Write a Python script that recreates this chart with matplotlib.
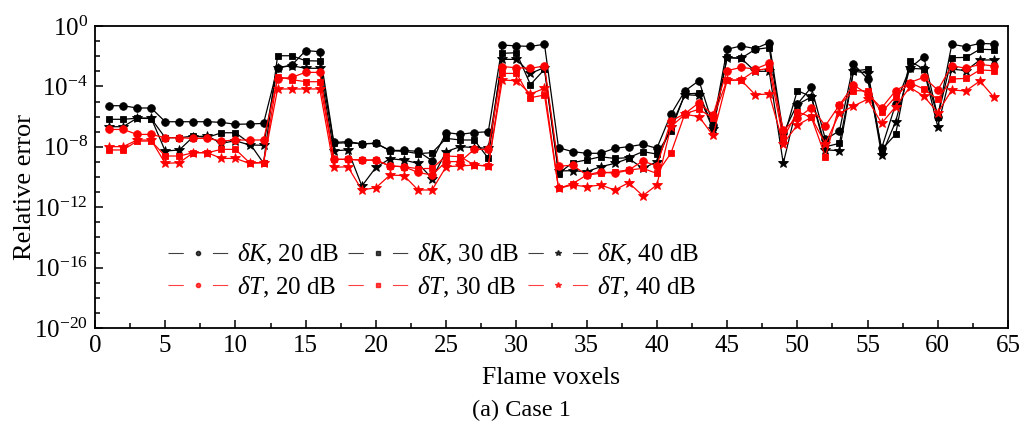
import matplotlib
matplotlib.use("Agg")
import matplotlib.pyplot as plt
from matplotlib.lines import Line2D
from matplotlib.ticker import FixedLocator, LogFormatterMathtext, NullFormatter
import numpy as np

plt.rcParams['font.family'] = ['Liberation Serif', 'DejaVu Serif']
plt.rcParams['mathtext.fontset'] = 'custom'
plt.rcParams['mathtext.rm'] = 'Liberation Serif'
plt.rcParams['mathtext.it'] = 'Liberation Serif:italic'
plt.rcParams['lines.scale_dashes'] = False

# log10 of the relative error, voxels 1..64
voxels = np.arange(1, 65)
logK20 = [-5.28, -5.28, -5.43, -5.43, -6.34, -6.34, -6.34, -6.34, -6.38, -6.51, -6.49, -6.45,
          -2.76, -2.60, -1.63, -1.70, -7.71, -7.66, -7.80, -7.77, -8.24, -8.24, -8.30, -8.92,
          -7.06, -7.17, -7.06, -7.00, -1.26, -1.32, -1.35, -1.21, -8.06, -8.32, -8.43, -8.43,
          -8.10, -7.99, -7.84, -8.10, -5.85, -4.30, -3.62, -6.55, -1.54, -1.32, -1.50, -1.10,
          -7.10, -5.17, -4.06, -7.50, -6.95, -2.52, -3.50, -8.10, -5.19, -2.80, -2.03, -6.00,
          -1.21, -1.37, -1.15, -1.19]
logK30 = [-6.18, -6.18, -6.11, -6.13, -7.40, -7.40, -7.29, -7.38, -7.07, -7.07, -7.75, -9.09,
          -1.97, -1.97, -2.30, -2.32, -7.77, -7.73, -7.80, -7.77, -8.26, -8.30, -8.45, -8.39,
          -7.44, -7.55, -7.55, -8.76, -1.81, -1.77, -3.88, -2.87, -9.77, -9.05, -8.87, -8.66,
          -8.77, -8.72, -8.32, -8.48, -6.95, -4.50, -4.45, -6.70, -2.08, -2.14, -1.55, -1.43,
          -7.50, -4.28, -4.68, -8.00, -7.77, -2.98, -2.87, -8.20, -7.17, -2.32, -2.85, -6.00,
          -2.10, -2.08, -1.54, -1.57]
logK40 = [-6.67, -6.67, -6.10, -6.10, -8.28, -8.21, -7.33, -7.29, -7.77, -7.60, -7.88, -7.90,
          -2.76, -2.63, -2.80, -2.80, -8.26, -8.21, -10.60, -9.36, -8.79, -8.88, -9.10, -10.10,
          -8.32, -7.99, -8.05, -8.10, -2.21, -2.21, -3.14, -2.75, -9.60, -9.58, -9.65, -9.32,
          -9.10, -8.77, -9.43, -8.99, -6.70, -4.55, -4.60, -6.85, -2.10, -2.14, -3.00, -3.00,
          -9.10, -5.20, -4.70, -8.20, -8.26, -3.00, -3.10, -8.54, -6.34, -2.80, -2.85, -6.67,
          -2.85, -2.96, -2.25, -2.25]
logT20 = [-6.85, -6.85, -7.18, -7.18, -7.40, -7.40, -7.44, -7.44, -7.62, -7.55, -7.55, -7.55,
          -3.50, -3.40, -3.07, -3.07, -8.83, -8.83, -8.88, -8.88, -9.27, -9.32, -9.70, -9.87,
          -8.98, -8.98, -8.17, -8.17, -2.69, -2.76, -2.80, -2.65, -9.30, -9.21, -9.87, -9.65,
          -9.76, -9.54, -8.94, -9.27, -6.30, -5.80, -5.08, -5.89, -2.96, -2.74, -2.85, -2.47,
          -6.88, -6.11, -5.41, -6.60, -5.23, -3.91, -4.50, -5.43, -4.28, -3.75, -3.40, -4.24,
          -2.63, -2.80, -2.54, -2.65]
logT30 = [-8.21, -8.21, -7.62, -7.62, -8.61, -8.61, -8.39, -8.39, -8.17, -8.17, -9.05, -9.05,
          -3.35, -3.55, -3.69, -3.69, -8.83, -8.83, -8.88, -8.88, -9.27, -9.32, -9.45, -9.43,
          -8.61, -8.65, -9.21, -9.27, -3.14, -3.14, -4.75, -4.57, -10.75, -10.45, -9.87, -9.76,
          -9.65, -9.54, -9.43, -9.76, -8.43, -5.80, -5.52, -6.10, -3.58, -3.58, -2.95, -2.80,
          -7.45, -5.67, -6.05, -8.65, -5.25, -4.28, -4.30, -5.72, -4.68, -3.75, -4.17, -4.86,
          -3.51, -3.47, -2.91, -2.96]
logT40 = [-7.99, -7.99, -7.55, -7.55, -9.10, -9.05, -8.39, -8.39, -8.77, -8.77, -9.10, -9.05,
          -4.17, -4.17, -4.17, -4.17, -9.36, -9.32, -10.86, -10.71, -9.87, -9.91, -10.86, -10.86,
          -9.31, -9.27, -9.21, -9.27, -3.58, -3.62, -4.50, -4.13, -10.75, -10.53, -10.64, -10.53,
          -10.86, -10.38, -11.24, -10.53, -6.67, -5.85, -6.00, -7.25, -3.60, -3.58, -4.55, -4.50,
          -7.80, -6.56, -6.05, -7.80, -5.78, -5.30, -4.85, -6.44, -5.34, -4.06, -4.64, -5.74,
          -4.24, -4.30, -3.64, -4.72]

series = [
    (logK20, 'k', 'o', r'$\delta K$, 20 dB'),
    (logK30, 'k', 's', r'$\delta K$, 30 dB'),
    (logK40, 'k', '*', r'$\delta K$, 40 dB'),
    (logT20, 'r', 'o', r'$\delta T$, 20 dB'),
    (logT30, 'r', 's', r'$\delta T$, 30 dB'),
    (logT40, 'r', '*', r'$\delta T$, 40 dB'),
]
msizes = {'o': 5.5, 's': 5.0, '*': 7.0}

fig = plt.figure(figsize=(10.35, 4.32), dpi=100)
ax = fig.add_axes([95 / 1035, 1 - 328 / 432, (1008 - 95) / 1035, (328 - 26) / 432])

for vals, col, mk, lab in series:
    ax.plot(voxels, 10.0 ** np.array(vals), color=col, marker=mk, ms=msizes[mk],
            lw=0.9, markeredgewidth=0.6)

ax.set_yscale('log')
ax.set_xlim(0, 65)
ax.set_ylim(1e-20, 1e0)
ax.xaxis.set_major_locator(FixedLocator(np.arange(0, 66, 5)))
ax.xaxis.set_minor_locator(FixedLocator(np.arange(2.5, 65, 5)))
ax.yaxis.set_major_locator(FixedLocator([10.0 ** e for e in range(-20, 1, 4)]))
ax.yaxis.set_minor_locator(FixedLocator([10.0 ** e for e in range(-20, 1)]))
ax.yaxis.set_major_formatter(LogFormatterMathtext())
ax.yaxis.set_minor_formatter(NullFormatter())
ax.tick_params(which='both', direction='in', top=False, right=False, labelsize=18, width=1.1)
ax.tick_params(which='major', length=6)
ax.tick_params(which='minor', length=3.5)
ax.tick_params(axis='x', pad=5)
ax.tick_params(axis='y', pad=5)
for sp in ax.spines.values():
    sp.set_linewidth(1.3)

ax.set_xlabel('Flame voxels', fontsize=18.5, labelpad=7)
ax.set_ylabel('Relative error', fontsize=19)
ax.yaxis.set_label_coords(-0.0645, 0.467)

# legend handles: short dash, small marker, short dash
handles = []
for vals, col, mk, lab in series:
    handles.append(Line2D([], [], color=col, lw=0.8, alpha=0.75, marker=mk,
                          ms=msizes[mk] * 0.55, markerfacecolor=col, markeredgecolor=col,
                          dashes=(11, 21), label=lab))
order = [0, 3, 1, 4, 2, 5]
leg = ax.legend([handles[i] for i in order], [series[i][3] for i in order],
                ncol=3, loc='upper left', bbox_to_anchor=(168 / 1035, 1 - 242 / 432),
                bbox_transform=fig.transFigure, frameon=False, fontsize=18,
                handlelength=2.4, handletextpad=0.36, columnspacing=0.35,
                labelspacing=0.3, borderpad=0, borderaxespad=0, numpoints=1)

fig.text(521 / 1035, 1 - 410 / 432, '(a) Case 1', ha='center', va='center', fontsize=17.5)

fig.savefig('out.png', dpi=100)
